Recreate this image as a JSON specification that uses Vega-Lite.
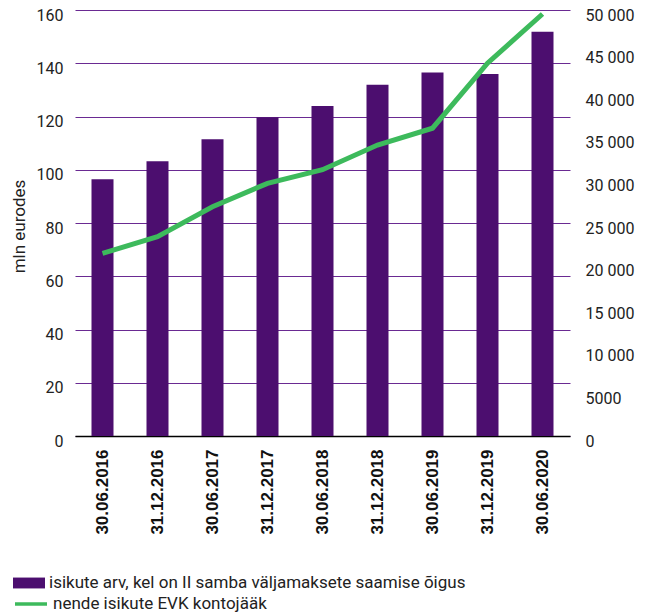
{
  "$schema": "https://vega.github.io/schema/vega-lite/v6.json",
  "width": 495,
  "height": 426,
  "autosize": {"type": "none"},
  "padding": {"left": 75, "top": 10, "right": 87, "bottom": 176},
  "background": "white",
  "config": {
    "view": {"stroke": null},
    "font": "Roboto",
    "axis": {"labelFont": "Roboto", "titleFont": "Roboto"},
    "legend": {"labelFont": "Roboto"}
  },
  "data": {
    "values": [
      {"date": "30.06.2016", "persons": 30130, "balance": 68.6, "s1": "isikute arv, kel on II samba väljamaksete saamise õigus", "s2": "nende isikute EVK kontojääk"},
      {"date": "31.12.2016", "persons": 32250, "balance": 74.9, "s1": "isikute arv, kel on II samba väljamaksete saamise õigus", "s2": "nende isikute EVK kontojääk"},
      {"date": "30.06.2017", "persons": 34820, "balance": 86.1, "s1": "isikute arv, kel on II samba väljamaksete saamise õigus", "s2": "nende isikute EVK kontojääk"},
      {"date": "31.12.2017", "persons": 37410, "balance": 94.9, "s1": "isikute arv, kel on II samba väljamaksete saamise õigus", "s2": "nende isikute EVK kontojääk"},
      {"date": "30.06.2018", "persons": 38730, "balance": 100.0, "s1": "isikute arv, kel on II samba väljamaksete saamise õigus", "s2": "nende isikute EVK kontojääk"},
      {"date": "31.12.2018", "persons": 41230, "balance": 109.3, "s1": "isikute arv, kel on II samba väljamaksete saamise õigus", "s2": "nende isikute EVK kontojääk"},
      {"date": "30.06.2019", "persons": 42650, "balance": 115.6, "s1": "isikute arv, kel on II samba väljamaksete saamise õigus", "s2": "nende isikute EVK kontojääk"},
      {"date": "31.12.2019", "persons": 42490, "balance": 140.0, "s1": "isikute arv, kel on II samba väljamaksete saamise õigus", "s2": "nende isikute EVK kontojääk"},
      {"date": "30.06.2020", "persons": 47460, "balance": 158.5, "s1": "isikute arv, kel on II samba väljamaksete saamise õigus", "s2": "nende isikute EVK kontojääk"}
    ]
  },
  "encoding": {
    "x": {
      "field": "date",
      "type": "nominal",
      "sort": null,
      "scale": {"paddingInner": 0.6, "paddingOuter": 0.3},
      "axis": {
        "title": null,
        "labelAngle": -90,
        "labelFont": "Liberation Sans",
        "labelFontWeight": "bold",
        "labelFontSize": 17,
        "labelColor": "#111111",
        "labelPadding": 13,
        "ticks": false,
        "domainColor": "#000000",
        "domainWidth": 1.5,
        "grid": false
      }
    }
  },
  "layer": [
    {
      "mark": {"type": "bar", "color": "#4c0e6f"},
      "encoding": {
        "y": {
          "field": "persons",
          "type": "quantitative",
          "scale": {"domain": [0, 50000], "nice": false},
          "axis": {
            "orient": "right",
            "title": null,
            "grid": false,
            "domain": false,
            "ticks": false,
            "values": [0, 5000, 10000, 15000, 20000, 25000, 30000, 35000, 40000, 45000, 50000],
            "labelExpr": "datum.value >= 10000 ? replace(format(datum.value, ','), ',', ' ') : format(datum.value, 'd')",
            "labelFontSize": 16,
            "labelColor": "#222222",
            "labelPadding": 15,
            "labelOffset": 5
          }
        },
        "color": {
          "field": "s1",
          "type": "nominal",
          "scale": {"range": ["#4c0e6f"]},
          "legend": {
            "title": null,
            "orient": "none",
            "legendX": -62,
            "legendY": 557,
            "padding": 0,
            "symbolType": "M-1,-0.34H1V0.34H-1Z",
            "symbolSize": 1024,
            "symbolStrokeWidth": 0,
            "labelFontSize": 17,
            "labelColor": "#222222",
            "labelOffset": 4,
            "labelLimit": 600
          }
        }
      }
    },
    {
      "mark": {"type": "line", "color": "#3dba5c", "strokeWidth": 5},
      "encoding": {
        "y": {
          "field": "balance",
          "type": "quantitative",
          "scale": {"domain": [0, 160], "nice": false},
          "axis": {
            "orient": "left",
            "title": "mln eurodes",
            "titleFontSize": 17,
            "titleFontWeight": "normal",
            "titleColor": "#222222",
            "titleBaseline": "middle",
            "titleX": -56,
            "titleY": 216,
            "grid": true,
            "gridColor": "#6a2a92",
            "gridWidth": 1,
            "domain": false,
            "ticks": false,
            "values": [0, 20, 40, 60, 80, 100, 120, 140, 160],
            "labelFontSize": 16,
            "labelColor": "#222222",
            "labelPadding": 12,
            "labelOffset": 5
          }
        },
        "color": {
          "field": "s2",
          "type": "nominal",
          "scale": {"range": ["#3dba5c"]},
          "legend": {
            "title": null,
            "orient": "none",
            "legendX": -62,
            "legendY": 576,
            "padding": 0,
            "symbolType": "stroke",
            "symbolSize": 1024,
            "symbolStrokeWidth": 3.5,
            "labelFontSize": 17,
            "labelColor": "#222222",
            "labelOffset": 4,
            "labelLimit": 600
          }
        }
      }
    }
  ],
  "resolve": {"scale": {"y": "independent", "color": "independent"}}
}
